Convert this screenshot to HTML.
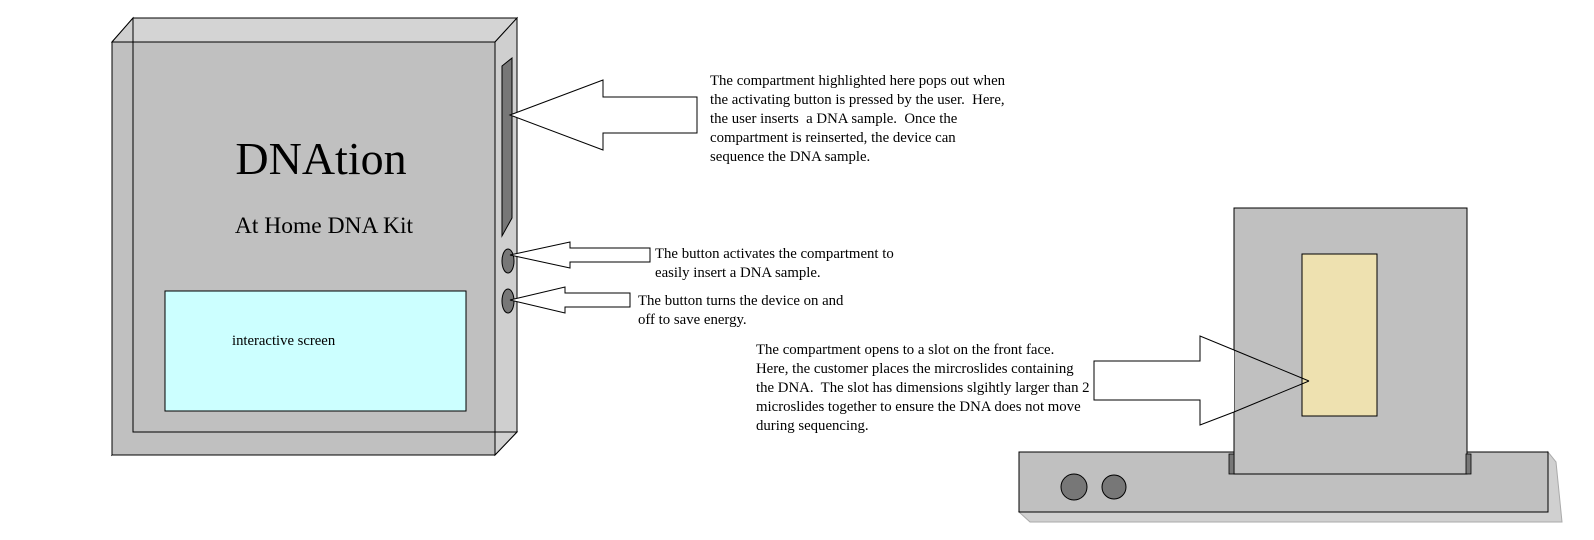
<!DOCTYPE html>
<html><head><style>
html,body{margin:0;padding:0;background:#fff;}
svg{display:block;}
text{font-family:"Liberation Serif",serif;fill:#000;white-space:pre;}
</style></head><body>
<svg width="1594" height="540" viewBox="0 0 1594 540" xmlns="http://www.w3.org/2000/svg" xml:space="preserve">
<!-- left device -->
<polygon points="112,42 133,18 517,18 495,42" fill="#d4d4d4" stroke="#000" stroke-width="1"/>
<polygon points="495,42 517,18 517,432 495,455" fill="#cfcfcf" stroke="#000" stroke-width="1"/>
<polygon points="112,42 133,18 133,432 112,455" fill="#d0d0d0" stroke="#000"/>
<polygon points="112,455 133,432 517,432 495,455" fill="#d0d0d0" stroke="#000"/>
<rect x="112" y="42" width="383" height="413" fill="#c0c0c0" stroke="#000"/>
<rect x="133" y="18" width="384" height="414" fill="none" stroke="#000"/>
<polygon points="502,66 512,58 512,218 502,236" fill="#777" stroke="#000"/>
<ellipse cx="508" cy="261" rx="6" ry="12" fill="#777" stroke="#000"/>
<ellipse cx="508" cy="301" rx="6" ry="12" fill="#777" stroke="#000"/>
<rect x="165" y="291" width="301" height="120" fill="#ccffff" stroke="#000"/>
<text x="232" y="345" font-size="14.7">interactive screen</text>
<text x="321" y="174" font-size="46" text-anchor="middle">DNAtion</text>
<text x="324" y="233" font-size="23.5" text-anchor="middle">At Home DNA Kit</text>
<!-- arrows -->
<polygon points="510,115 603,80 603,97 697,97 697,133 603,133 603,150" fill="#fff" stroke="#000"/>
<polygon points="510,255 570,242 570,248 650,248 650,262 570,262 570,268" fill="#fff" stroke="#000"/>
<polygon points="510,300 565,287 565,293 630,293 630,307 565,307 565,313" fill="#fff" stroke="#000"/>
<g font-size="14.8">
<text x="710" y="85">The compartment highlighted here pops out when</text>
<text x="710" y="104">the activating button is pressed by the user.  Here,</text>
<text x="710" y="123">the user inserts  a DNA sample.  Once the</text>
<text x="710" y="142">compartment is reinserted, the device can</text>
<text x="710" y="161">sequence the DNA sample.</text>
<text x="655" y="258">The button activates the compartment to</text>
<text x="655" y="277">easily insert a DNA sample.</text>
<text x="638" y="305">The button turns the device on and</text>
<text x="638" y="324">off to save energy.</text>
<text x="756" y="354">The compartment opens to a slot on the front face.</text>
<text x="756" y="373">Here, the customer places the mircroslides containing</text>
<text x="756" y="392">the DNA.  The slot has dimensions slgihtly larger than 2</text>
<text x="756" y="411">microslides together to ensure the DNA does not move</text>
<text x="756" y="430">during sequencing.</text>
</g>
<!-- right device -->
<polygon points="1019,512 1030,522 1562,522 1556,462 1548,452 1548,512" fill="#d0d0d0" stroke="#aaa"/>
<rect x="1019" y="452" width="529" height="60" fill="#c0c0c0" stroke="#000"/>
<rect x="1234" y="208" width="233" height="266" fill="#c0c0c0" stroke="#000"/>
<rect x="1229" y="454" width="5" height="20" fill="#777" stroke="#000" stroke-width="0.8"/>
<rect x="1466" y="454" width="5" height="20" fill="#777" stroke="#000" stroke-width="0.8"/>
<rect x="1302" y="254" width="75" height="162" fill="#eee1b0" stroke="#000"/>
<circle cx="1074" cy="487" r="13" fill="#777" stroke="#000"/>
<circle cx="1114" cy="487" r="12" fill="#777" stroke="#000"/>
<polygon points="1094,361 1200,361 1200,336 1234,350 1234,412 1200,425 1200,400 1094,400" fill="#fff" stroke="none"/>
<polyline points="1234,350 1200,336 1200,361 1094,361 1094,400 1200,400 1200,425 1234,412" fill="none" stroke="#000"/>
<line x1="1234" y1="350" x2="1309" y2="381" stroke="#000"/>
<line x1="1234" y1="412" x2="1309" y2="381" stroke="#000"/>
</svg>
</body></html>
